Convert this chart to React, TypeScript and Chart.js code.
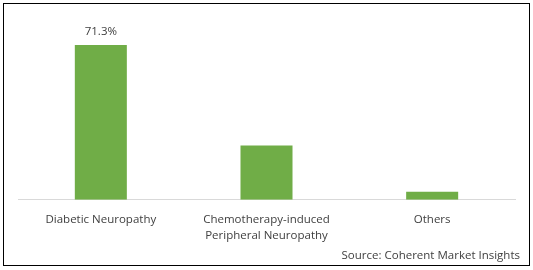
import React, { useEffect, useRef } from "react";
import { Chart, registerables } from "chart.js";

Chart.register(...registerables);

const categories: (string | string[])[] = [
  "Diabetic Neuropathy",
  ["Chemotherapy-induced", "Peripheral Neuropathy"],
  "Others",
];
const shares: number[] = [71.3, 25.0, 3.7];
const showValueLabel: boolean[] = [true, false, false];
const sourceText = "Source: Coherent Market Insights";

const FONT = "'Open Sans', sans-serif";
const TEXT = "#404040";

const extrasPlugin = {
  id: "extras",
  afterDatasetsDraw(chart: any) {
    const ctx = chart.ctx;
    const meta = chart.getDatasetMeta(0);
    ctx.save();
    ctx.font = `11.5px ${FONT}`;
    ctx.fillStyle = TEXT;
    ctx.textAlign = "center";
    ctx.textBaseline = "middle";
    meta.data.forEach((bar: any, i: number) => {
      if (!showValueLabel[i]) return;
      ctx.fillText(`${shares[i].toFixed(1)}%`, bar.x, bar.y - 13);
    });
    ctx.textAlign = "right";
    ctx.fillText(sourceText, 520, 256);
    ctx.restore();
  },
};

export default function App() {
  const ref = useRef<HTMLCanvasElement>(null);
  useEffect(() => {
    if (!ref.current) return;
    const chart = new Chart(ref.current, {
      type: "bar",
      data: {
        labels: categories,
        datasets: [
          {
            data: shares,
            backgroundColor: "#70AD47",
            borderWidth: 0,
            barPercentage: 0.314,
            categoryPercentage: 1,
          },
        ],
      },
      options: {
        animation: false,
        responsive: false,
        maintainAspectRatio: false,
        layout: { padding: { left: 18, right: 18, top: 26, bottom: 14 } },
        plugins: {
          legend: { display: false },
          tooltip: { enabled: false },
        },
        scales: {
          x: {
            grid: { display: false, drawTicks: false },
            border: { display: true, color: "#d9d9d9", width: 1 },
            ticks: {
              color: TEXT,
              padding: 12,
              maxRotation: 0,
              autoSkip: false,
              font: { family: FONT, size: 11.5, lineHeight: 1.4 },
            },
          },
          y: {
            display: false,
            min: 0,
            max: 80,
          },
        },
      },
      plugins: [extrasPlugin],
    });
    return () => chart.destroy();
  }, []);
  return (
    <div style={{ position: "fixed", left: 0, top: 0, width: 533, height: 270, background: "#fff" }}>
      <canvas ref={ref} width={533} height={270} style={{ position: "absolute", left: 0, top: 0 }} />
      <div
        style={{
          position: "absolute",
          left: 3,
          top: 3,
          width: 527,
          height: 263,
          boxSizing: "border-box",
          border: "1px solid #000",
          pointerEvents: "none",
        }}
      />
    </div>
  );
}
